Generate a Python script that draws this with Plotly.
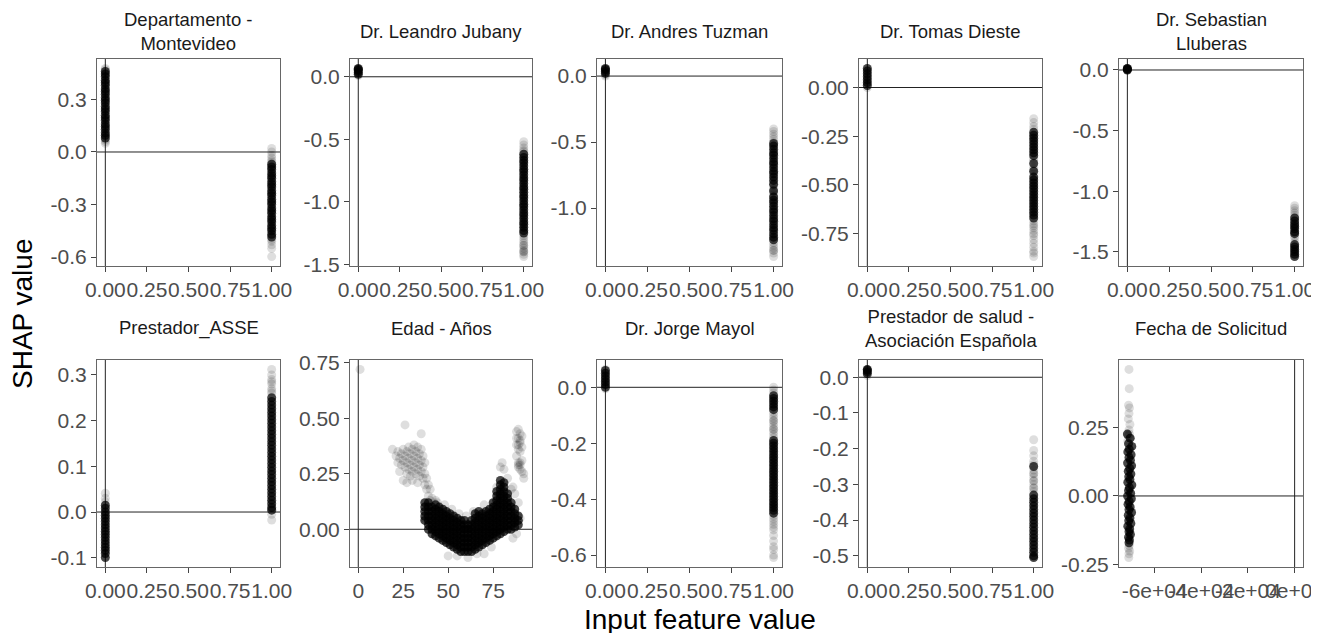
import plotly.graph_objects as go

# ---------------------------------------------------------------------------
# SHAP dependence data
# binary features: "off" = input value 0, "on" = input value 1
# dense = the solid black part of a column, light = the sparse grey points
# ---------------------------------------------------------------------------

# Departamento - Montevideo
montevideo_off_dense = [0.08, 0.095, 0.11, 0.13, 0.145, 0.16, 0.18, 0.195, 0.21, 0.23, 0.245, 0.26,
                        0.28, 0.295, 0.31, 0.33, 0.345, 0.36, 0.38, 0.395, 0.41, 0.43, 0.445, 0.46]
montevideo_off_light = [0.05, 0.06, 0.07, 0.47, 0.477]
montevideo_on_dense = [-0.07, -0.085, -0.10, -0.12, -0.135, -0.15, -0.17, -0.185, -0.20, -0.22,
                       -0.235, -0.25, -0.27, -0.285, -0.30, -0.32, -0.335, -0.35, -0.37, -0.385,
                       -0.40, -0.42, -0.435, -0.45, -0.47, -0.485]
montevideo_on_light = [0.02, 0.0, -0.02, -0.035, -0.05, -0.06, -0.50, -0.51, -0.53, -0.55, -0.597]

# Dr. Leandro Jubany
jubany_off_dense = [0.02, 0.035, 0.05, 0.06, 0.067]
jubany_off_light = [0.01, 0.04]
jubany_on_dense = [-0.62, -0.645, -0.67, -0.69, -0.715, -0.74, -0.76, -0.785, -0.81, -0.83, -0.855,
                   -0.88, -0.90, -0.925, -0.95, -0.97, -0.995, -1.02, -1.04, -1.065, -1.09, -1.11,
                   -1.135, -1.16, -1.18, -1.205, -1.23, -1.25]
jubany_on_light = [-0.52, -0.545, -0.57, -0.59, -0.60, -1.27, -1.29, -1.31, -1.33, -1.35, -1.35,
                   -1.37, -1.39, -1.40, -1.40, -1.42, -1.439]

# Dr. Andres Tuzman
tuzman_off_dense = [0.02, 0.035, 0.05, 0.058]
tuzman_off_light = [0.0, 0.01]
tuzman_on_dense = [-0.51, -0.53, -0.555, -0.58, -0.60, -0.625, -0.65, -0.67, -0.695, -0.72, -0.74,
                   -0.765, -0.79, -0.82, -0.87, -0.915, -0.94, -0.96, -0.985, -1.01, -1.03, -1.055,
                   -1.08, -1.10, -1.125, -1.15, -1.17, -1.195, -1.22, -1.24]
tuzman_on_light = [-0.40, -0.42, -0.44, -0.46, -0.48, -0.50, -0.81, -0.83, -0.85, -0.86, -0.89,
                   -0.90, -0.92, -1.26, -1.28, -1.30, -1.32, -1.32, -1.34, -1.367]

# Dr. Tomas Dieste
dieste_off_dense = [0.01, 0.025, 0.04, 0.055, 0.07, 0.085, 0.098]
dieste_off_light = [0.0]
dieste_on_dense = [-0.23, -0.245, -0.26, -0.275, -0.29, -0.305, -0.32, -0.335, -0.35, -0.39, -0.43,
                   -0.46, -0.475, -0.49, -0.505, -0.52, -0.535, -0.55, -0.565, -0.58, -0.595,
                   -0.61, -0.625, -0.64, -0.655, -0.67]
dieste_on_light = [-0.16, -0.18, -0.20, -0.215, -0.365, -0.375, -0.41, -0.42, -0.445, -0.685,
                   -0.70, -0.71, -0.72, -0.735, -0.75, -0.76, -0.78, -0.80, -0.82, -0.84, -0.85,
                   -0.868]

# Dr. Sebastian Lluberas
lluberas_off_dense = [0.0, 0.005, 0.01, 0.013]
lluberas_off_light = [0.0]
lluberas_on_dense = [-1.22, -1.245, -1.27, -1.29, -1.31, -1.335, -1.35, -1.44, -1.46, -1.48, -1.50,
                     -1.52, -1.539]
lluberas_on_light = [-1.12, -1.14, -1.16, -1.18, -1.20, -1.37, -1.39, -1.42]

# Prestador_ASSE
asse_off_dense = [0.015, 0.008, 0.0, -0.007, -0.014, -0.021, -0.028, -0.035, -0.042, -0.049,
                  -0.056, -0.063, -0.07, -0.077, -0.084, -0.091, -0.0997]
asse_off_light = [0.041, 0.03, 0.022]
asse_on_dense = [0.25, 0.242, 0.234, 0.226, 0.218, 0.21, 0.202, 0.194, 0.186, 0.178, 0.17, 0.162,
                 0.154, 0.146, 0.138, 0.13, 0.122, 0.114, 0.106, 0.098, 0.09, 0.082, 0.074, 0.066,
                 0.058, 0.05, 0.042, 0.034, 0.026, 0.018, 0.01, 0.004]
asse_on_light = [0.312, 0.30, 0.29, 0.285, 0.28, 0.27, 0.265, 0.26, -0.005, -0.0175]

# Dr. Jorge Mayol
mayol_off_dense = [0.0, 0.01, 0.02, 0.03, 0.04, 0.05, 0.06]
mayol_off_light = [0.064, -0.005]
mayol_on_dense = [-0.03, -0.04, -0.05, -0.06, -0.07, -0.08, -0.19, -0.20, -0.21, -0.22, -0.23,
                  -0.24, -0.25, -0.26, -0.27, -0.28, -0.29, -0.30, -0.31, -0.32, -0.33, -0.34,
                  -0.35, -0.36, -0.37, -0.38, -0.39, -0.40, -0.41, -0.42, -0.43, -0.44, -0.45]
mayol_on_light = [0.0, -0.01, -0.02, -0.09, -0.10, -0.11, -0.12, -0.12, -0.13, -0.14, -0.15,
                  -0.15, -0.16, -0.17, -0.18, -0.46, -0.47, -0.48, -0.49, -0.50, -0.51, -0.53,
                  -0.55, -0.57, -0.58, -0.60, -0.609]

# Prestador de salud - Asociación Española
espanola_off_dense = [0.01, 0.015, 0.02, 0.022]
espanola_off_light = [0.005]
espanola_on_dense = [-0.25, -0.33, -0.34, -0.35, -0.36, -0.37, -0.38, -0.39, -0.40, -0.41, -0.42,
                     -0.43, -0.44, -0.45, -0.46, -0.47, -0.48, -0.49, -0.50, -0.505]
espanola_on_light = [-0.175, -0.205, -0.22, -0.235, -0.245, -0.26, -0.27, -0.27, -0.28, -0.29,
                     -0.29, -0.30, -0.31, -0.31, -0.32]

# Edad - Años (continuous)
edad_dense_age = [
    37, 37, 37, 37, 37,
    39, 39, 39, 39, 39, 39, 39,
    41, 41, 41, 41, 41, 41, 41,
    43, 43, 43, 43, 43, 43, 43, 43,
    45, 45, 45, 45, 45, 45, 45, 45,
    47, 47, 47, 47, 47, 47, 47, 47,
    49, 49, 49, 49, 49, 49, 49, 49,
    51, 51, 51, 51, 51, 51, 51, 51,
    53, 53, 53, 53, 53, 53, 53, 53,
    55, 55, 55, 55, 55, 55, 55, 55,
    57, 57, 57, 57, 57, 57, 57, 57,
    59, 59, 59, 59, 59, 59, 59, 59,
    61, 61, 61, 61, 61, 61, 61,
    63, 63, 63, 63, 63, 63, 63, 63,
    65, 65, 65, 65, 65, 65, 65, 65, 65,
    67, 67, 67, 67, 67, 67, 67, 67, 67,
    69, 69, 69, 69, 69, 69, 69, 69,
    71, 71, 71, 71, 71, 71, 71, 71,
    73, 73, 73, 73, 73, 73, 73, 73,
    75, 75, 75, 75, 75, 75, 75, 75, 75,
    77, 77, 77, 77, 77, 77, 77, 77, 77, 77, 77,
    79, 79, 79, 79, 79, 79, 79, 79, 79, 79, 79, 79, 79,
    81, 81, 81, 81, 81, 81, 81, 81, 81, 81, 81, 81,
    83, 83, 83, 83, 83, 83, 83, 83, 83,
    85, 85, 85, 85, 85, 85, 85,
    87, 87, 87, 87, 87,
    89, 89, 89,
]
edad_dense_shap = [
    0.04, 0.06, 0.08, 0.10, 0.12,
    0.00, 0.02, 0.04, 0.06, 0.08, 0.10, 0.12,
    -0.02, 0.00, 0.02, 0.04, 0.06, 0.08, 0.10,
    -0.03, -0.01, 0.01, 0.03, 0.05, 0.07, 0.09, 0.11,
    -0.04, -0.02, 0.00, 0.02, 0.04, 0.06, 0.08, 0.10,
    -0.05, -0.03, -0.01, 0.01, 0.03, 0.05, 0.07, 0.09,
    -0.06, -0.04, -0.02, 0.00, 0.02, 0.04, 0.06, 0.08,
    -0.07, -0.05, -0.03, -0.01, 0.01, 0.03, 0.05, 0.07,
    -0.08, -0.06, -0.04, -0.02, 0.00, 0.02, 0.04, 0.06,
    -0.09, -0.07, -0.05, -0.03, -0.01, 0.01, 0.03, 0.05,
    -0.10, -0.08, -0.06, -0.04, -0.02, 0.00, 0.02, 0.04,
    -0.10, -0.08, -0.06, -0.04, -0.02, 0.00, 0.02, 0.04,
    -0.10, -0.08, -0.06, -0.04, -0.02, 0.00, 0.02,
    -0.10, -0.08, -0.06, -0.04, -0.02, 0.00, 0.02, 0.04,
    -0.09, -0.07, -0.05, -0.03, -0.01, 0.01, 0.03, 0.05, 0.07,
    -0.08, -0.06, -0.04, -0.02, 0.00, 0.02, 0.04, 0.06, 0.08,
    -0.07, -0.05, -0.03, -0.01, 0.01, 0.03, 0.05, 0.07,
    -0.06, -0.04, -0.02, 0.00, 0.02, 0.04, 0.06, 0.08,
    -0.05, -0.03, -0.01, 0.01, 0.03, 0.05, 0.07, 0.09,
    -0.04, -0.02, 0.00, 0.02, 0.04, 0.06, 0.08, 0.10, 0.12,
    -0.03, -0.01, 0.01, 0.03, 0.05, 0.07, 0.09, 0.11, 0.13, 0.15, 0.17,
    -0.02, 0.00, 0.02, 0.04, 0.06, 0.08, 0.10, 0.12, 0.14, 0.16, 0.18, 0.20, 0.22,
    -0.01, 0.01, 0.03, 0.05, 0.07, 0.09, 0.11, 0.13, 0.15, 0.17, 0.19, 0.21,
    0.00, 0.02, 0.04, 0.06, 0.08, 0.10, 0.12, 0.14, 0.16,
    0.00, 0.02, 0.04, 0.06, 0.08, 0.10, 0.12,
    0.01, 0.03, 0.05, 0.07, 0.09,
    0.02, 0.04, 0.06,
]
edad_light_age = [1, 19, 26, 35, 23, 25,
                  21, 22, 22, 23, 24, 24, 25, 25, 26, 26, 27, 27, 27, 28, 28, 28, 29, 29, 29,
                  30, 30, 30, 31, 31, 31, 32, 32, 32, 33, 33, 33, 34, 34, 34, 35, 35, 35, 36,
                  36, 36, 37, 37, 37, 38, 38, 39, 39, 40, 40, 41, 42, 43, 27, 30, 33,
                  37, 37, 44, 48, 52, 56, 60, 64, 70, 50, 55, 61, 66, 70, 74, 86, 88,
                  79, 80, 81, 77, 83, 85, 87, 89, 90, 86,
                  88, 89, 90, 89, 90, 91, 88, 89, 90, 91, 88, 89, 90, 91, 89, 90, 92, 92,
                  91, 88, 90, 89, 89, 90]
edad_light_shap = [0.72, 0.36, 0.47, 0.43, 0.26, 0.22,
                   0.33, 0.30, 0.35, 0.32, 0.29, 0.34, 0.31, 0.36, 0.28, 0.33, 0.25, 0.30, 0.35,
                   0.27, 0.32, 0.37, 0.24, 0.29, 0.34, 0.26, 0.31, 0.36, 0.28, 0.33, 0.38, 0.25,
                   0.30, 0.35, 0.27, 0.32, 0.37, 0.24, 0.29, 0.34, 0.26, 0.31, 0.36, 0.23, 0.28,
                   0.33, 0.20, 0.25, 0.30, 0.18, 0.23, 0.15, 0.20, 0.13, 0.18, 0.14, 0.12, 0.13,
                   0.21, 0.22, 0.21,
                   0.10, 0.05, 0.12, 0.11, 0.09, 0.07, 0.06, 0.08, 0.11, -0.12, -0.12, -0.1275,
                   -0.11, -0.11, -0.08, -0.04, -0.02,
                   0.28, 0.30, 0.27, 0.19, 0.23, 0.18, 0.16, 0.12, 0.05, 0.19,
                   0.44, 0.45, 0.43, 0.41, 0.39, 0.42, 0.38, 0.36, 0.35, 0.37, 0.33, 0.30, 0.29,
                   0.31, 0.28, 0.27, 0.25, 0.23, 0.26, 0.41, 0.40, 0.38, 0.29, 0.30]

# Fecha de Solicitud (continuous, numeric date)
fecha_dense_x = [-71700, -70500, -71200, -69800, -70900, -71500, -70100, -71000, -70400, -71600,
                 -69900, -70700, -71300, -70200, -71100, -70600, -71500, -69800, -70800, -71200,
                 -70300, -71600, -70000, -70900, -71400, -70500, -71000, -69900, -71300, -70600,
                 -71100, -70200, -71500, -70700, -71000, -70400, -71200, -70800, -71000]
fecha_dense_y = [0.225, 0.21, 0.19, 0.18, 0.17, 0.16, 0.15, 0.14, 0.13, 0.12, 0.11, 0.10, 0.09,
                 0.08, 0.07, 0.06, 0.05, 0.04, 0.03, 0.02, 0.01, 0.0, -0.01, -0.02, -0.03, -0.04,
                 -0.05, -0.06, -0.07, -0.08, -0.09, -0.10, -0.11, -0.12, -0.13, -0.14, -0.15,
                 -0.16, -0.17]
fecha_light_x = [-71000, -70900, -71200, -70800, -71000, -71300, -70600, -71000, -70800, -71300,
                 -70500, -71500, -70900, -71200, -70700, -71000, -71100]
fecha_light_y = [0.46, 0.39, 0.33, 0.32, 0.30, 0.28, 0.26, 0.24, 0.225, 0.22, 0.21, 0.20,
                 -0.18, -0.19, -0.20, -0.21, -0.224]

# tick labels
binary_ticks = [0, 0.25, 0.5, 0.75, 1]
binary_ticktext = ["0.00", "0.25", "0.50", "0.75", "1.00"]
edad_ticks = [0, 25, 50, 75]
edad_ticktext = ["0", "25", "50", "75"]
fecha_ticks = [-60000, -40000, -20000, 0]
fecha_ticktext = ["-6e+04", "-4e+04", "-2e+04", "0e+00"]

# ---------------------------------------------------------------------------
# panel table: title, (x dense, y dense, x light, y light), x ticks, y ticks
# ---------------------------------------------------------------------------
def binary(off_dense, off_light, on_dense, on_light):
    xd = [0] * len(off_dense) + [1] * len(on_dense)
    yd = off_dense + on_dense
    xl = [0] * len(off_light) + [1] * len(on_light)
    yl = off_light + on_light
    return xd, yd, xl, yl


panels = [
    ("Departamento -<br>Montevideo",
     binary(montevideo_off_dense, montevideo_off_light, montevideo_on_dense, montevideo_on_light),
     (binary_ticks, binary_ticktext), ([-0.6, -0.3, 0, 0.3], ["-0.6", "-0.3", "0.0", "0.3"])),
    ("Dr. Leandro Jubany",
     binary(jubany_off_dense, jubany_off_light, jubany_on_dense, jubany_on_light),
     (binary_ticks, binary_ticktext), ([-1.5, -1, -0.5, 0], ["-1.5", "-1.0", "-0.5", "0.0"])),
    ("Dr. Andres Tuzman",
     binary(tuzman_off_dense, tuzman_off_light, tuzman_on_dense, tuzman_on_light),
     (binary_ticks, binary_ticktext), ([-1, -0.5, 0], ["-1.0", "-0.5", "0.0"])),
    ("Dr. Tomas Dieste",
     binary(dieste_off_dense, dieste_off_light, dieste_on_dense, dieste_on_light),
     (binary_ticks, binary_ticktext),
     ([-0.75, -0.5, -0.25, 0], ["-0.75", "-0.50", "-0.25", "0.00"])),
    ("Dr. Sebastian<br>Lluberas",
     binary(lluberas_off_dense, lluberas_off_light, lluberas_on_dense, lluberas_on_light),
     (binary_ticks, binary_ticktext), ([-1.5, -1, -0.5, 0], ["-1.5", "-1.0", "-0.5", "0.0"])),
    ("Prestador_ASSE",
     binary(asse_off_dense, asse_off_light, asse_on_dense, asse_on_light),
     (binary_ticks, binary_ticktext),
     ([-0.1, 0, 0.1, 0.2, 0.3], ["-0.1", "0.0", "0.1", "0.2", "0.3"])),
    ("Edad - Años",
     (edad_dense_age, edad_dense_shap, edad_light_age, edad_light_shap),
     (edad_ticks, edad_ticktext), ([0, 0.25, 0.5, 0.75], ["0.00", "0.25", "0.50", "0.75"])),
    ("Dr. Jorge Mayol",
     binary(mayol_off_dense, mayol_off_light, mayol_on_dense, mayol_on_light),
     (binary_ticks, binary_ticktext), ([-0.6, -0.4, -0.2, 0], ["-0.6", "-0.4", "-0.2", "0.0"])),
    ("Prestador de salud -<br>Asociación Española",
     binary(espanola_off_dense, espanola_off_light, espanola_on_dense, espanola_on_light),
     (binary_ticks, binary_ticktext),
     ([-0.5, -0.4, -0.3, -0.2, -0.1, 0], ["-0.5", "-0.4", "-0.3", "-0.2", "-0.1", "0.0"])),
    ("Fecha de Solicitud",
     (fecha_dense_x, fecha_dense_y, fecha_light_x, fecha_light_y),
     (fecha_ticks, fecha_ticktext), ([-0.25, 0, 0.25], ["-0.25", "0.00", "0.25"])),
]

W, H = 1319, 633
OFF = 8  # the page body keeps an 8px margin, so the figure is drawn shifted by that much
col_px = [(97, 280), (350, 532), (597, 782), (859, 1042), (1119, 1303)]
row_px = [(59, 266), (360, 567)]
title_row_px = [32, 328]

FONT = "Liberation Sans, Arial, Helvetica, sans-serif"


def px_x(p):
    return (p - OFF) / W


def px_y(p):
    return 1 - (p - OFF) / H


def expand(values):
    # ggplot-style 5% expansion, the zero reference lines count as data
    lo, hi = min(min(values), 0), max(max(values), 0)
    pad = (hi - lo) * 0.05
    return [lo - pad, hi + pad]


fig = go.Figure()
layout = {}
shapes = []
annotations = []

for i, (title, (xd, yd, xl, yl), (xt, xtt), (yt, ytt)) in enumerate(panels):
    n = i + 1
    r, c = divmod(i, 5)
    xa, ya = ("x", "y") if n == 1 else (f"x{n}", f"y{n}")
    xkey, ykey = ("xaxis", "yaxis") if n == 1 else (f"xaxis{n}", f"yaxis{n}")
    l, rgt = col_px[c]
    t, b = row_px[r]

    fig.add_trace(go.Scatter(
        x=xl, y=yl, mode="markers", xaxis=xa, yaxis=ya, showlegend=False,
        marker=dict(size=9, color="rgba(0,0,0,0.13)", line=dict(width=0)),
    ))
    fig.add_trace(go.Scatter(
        x=xd, y=yd, mode="markers", xaxis=xa, yaxis=ya, showlegend=False,
        marker=dict(size=9, color="rgba(0,0,0,0.72)", line=dict(width=0)),
    ))

    common = dict(
        showgrid=False, zeroline=False, showline=True, mirror=True,
        linecolor="#666666", linewidth=1,
        ticks="outside", ticklen=5, tickwidth=1, tickcolor="#444444",
        tickfont=dict(family=FONT, size=21, color="#4d4d4d"),
        tickmode="array", tickangle=0, automargin=False,
    )
    layout[xkey] = dict(common, domain=[px_x(l), px_x(rgt)], anchor=ya,
                        range=expand(xd + xl), tickvals=xt, ticktext=xtt)
    layout[ykey] = dict(common, domain=[px_y(b), px_y(t)], anchor=xa,
                        range=expand(yd + yl), tickvals=yt, ticktext=ytt)

    # zero reference lines
    shapes.append(dict(type="line", xref=f"{xa} domain", x0=0, x1=1, yref=ya, y0=0, y1=0,
                       line=dict(color="#222222", width=1), layer="below"))
    shapes.append(dict(type="line", yref=f"{ya} domain", y0=0, y1=1, xref=xa, x0=0, x1=0,
                       line=dict(color="#222222", width=1), layer="below"))

    annotations.append(dict(
        text=title, x=px_x((l + rgt) / 2), y=px_y(title_row_px[r]),
        xref="paper", yref="paper", xanchor="center", yanchor="middle",
        showarrow=False, font=dict(family=FONT, size=18.5, color="#1a1a1a"),
    ))

# axis titles
annotations.append(dict(text="SHAP value", x=px_x(22), y=px_y(314), xref="paper", yref="paper",
                        textangle=-90, showarrow=False, xanchor="center", yanchor="middle",
                        font=dict(family=FONT, size=28, color="black")))
annotations.append(dict(text="Input feature value", x=px_x(700), y=px_y(619), xref="paper",
                        yref="paper", showarrow=False, xanchor="center", yanchor="middle",
                        font=dict(family=FONT, size=28, color="black")))

fig.update_layout(
    **layout,
    shapes=shapes,
    annotations=annotations,
    width=W, height=H,
    margin=dict(l=0, r=0, t=0, b=0),
    paper_bgcolor="white", plot_bgcolor="white",
    showlegend=False,
    font=dict(family=FONT),
)

fig.write_html("out.html")
